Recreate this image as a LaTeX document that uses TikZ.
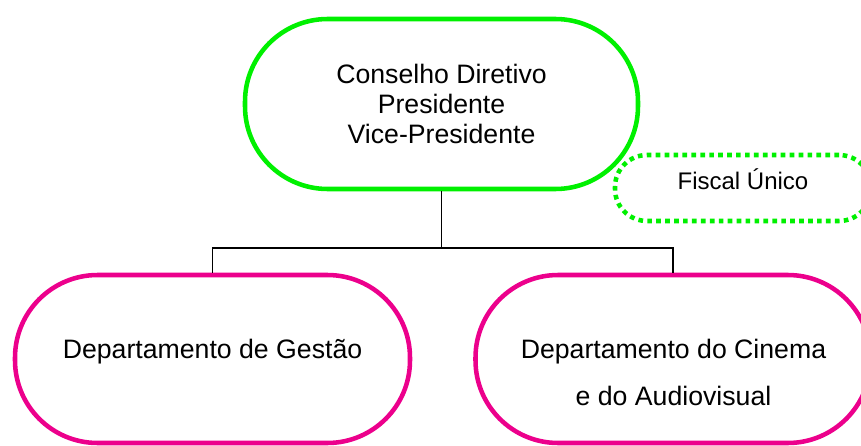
\documentclass[tikz,border=0pt]{standalone}
\usepackage{fontspec}
\setmainfont{Liberation Sans}
\definecolor{boardgreen}{RGB}{0,240,0}
\definecolor{deptpink}{RGB}{236,0,140}

\begin{document}
\begin{tikzpicture}[x=0.75pt,y=-0.75pt]
   \tikzstyle{every node}=[font=\fontsize{20}{22.5}\selectfont]
   \tikzstyle{boardbox}=[draw=boardgreen, line width=3.4pt, rounded corners=62pt,
      minimum width=294.75pt, minimum height=127.5pt, align=center]
   \tikzstyle{fiscalbox}=[draw=boardgreen, line width=3.4pt, rounded corners=24pt,
      dash pattern=on 3.5pt off 3.2pt, minimum width=192pt, minimum height=49.5pt]
   \tikzstyle{deptbox}=[draw=deptpink, line width=3.4pt, rounded corners=62pt,
      minimum width=296.25pt, minimum height=126pt]
\useasboundingbox (0,0) rectangle (861,446);
\node[boardbox] (CD) at (441.5,104) {Conselho Diretivo\\Presidente\\Vice-Presidente};
\node[fiscalbox] (FU) at (743,188) {};
\node[anchor=base, font=\fontsize{18}{21}\selectfont] (FUtext) at (743,189) {Fiscal Único};
\node[deptbox] (DG) at (212.5,359) {};
\node[anchor=base] (DGtext) at (212.5,358) {Departamento de Gestão};
\node[deptbox] (DC) at (673,359) {};
\node[anchor=base] (DCtext) at (673.5,358) {Departamento do Cinema};
\node[anchor=base] (DCtext2) at (673.5,405) {e do Audiovisual};

\coordinate (split) at (441.5,248);
\draw[line width=1pt] (CD.south) -- (split) -| (DG.north);
\draw[line width=1pt] (split) -| (DC.north);
\end{tikzpicture}
\end{document}
